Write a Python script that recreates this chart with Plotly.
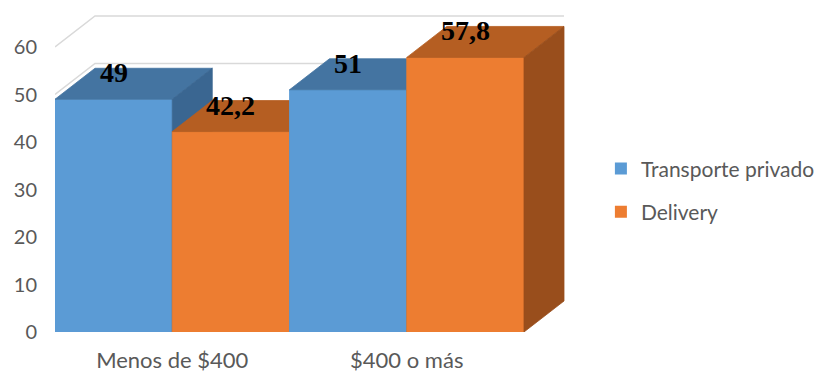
import plotly.graph_objects as go

# ---- data -------------------------------------------------------------
categories = ["Menos de $400", "$400 o más"]
transporte_privado = [49, 51]
delivery = [42.2, 57.8]
series_names = ["Transporte privado", "Delivery"]
y_ticks = [0, 10, 20, 30, 40, 50, 60]

# ---- styling / geometry -------------------------------------------------
W, H = 819, 374
M_L, M_R, M_T, M_B = 55, 249, 10, 42
PLOT_W = W - M_L - M_R
PLOT_H = H - M_T - M_B

PX_PER_Y = 4.75          # pixels per value unit
PX_PER_X = 234.5         # pixels per category slot
X_MIN = -0.5
X_MAX = X_MIN + PLOT_W / PX_PER_X
Y_MAX = PLOT_H / PX_PER_Y

# oblique depth of the 3-D boxes (pixels -> data units)
DEPTH_DX = 40 / PX_PER_X
DEPTH_DY = 31 / PX_PER_Y
BAR_W = 0.5

face_colors = {
    "Transporte privado": dict(front="#5B9BD5", top="#4474A1", side="#3A6691"),
    "Delivery": dict(front="#ED7D31", top="#B55E22", side="#994E1C"),
}
GRID_COLOR = "#D9D9D9"
TEXT_COLOR = "#595959"
FONT = "Lato"

fig = go.Figure()

# back wall and side wall gridlines
gx, gy = [], []
for v in y_ticks:
    gx += [X_MIN, X_MIN + DEPTH_DX, 1.5 + DEPTH_DX, None]
    gy += [v, v + DEPTH_DY, v + DEPTH_DY, None]
fig.add_trace(go.Scatter(x=gx, y=gy, mode="lines",
                         line=dict(color=GRID_COLOR, width=1.5),
                         hoverinfo="skip", showlegend=False))


def add_face(xs, ys, color):
    fig.add_trace(go.Scatter(x=xs + [xs[0]], y=ys + [ys[0]], mode="lines",
                             fill="toself", fillcolor=color,
                             line=dict(color=color, width=0.8),
                             hoverinfo="skip", showlegend=False))


def fmt(v):
    return str(int(v)) if float(v).is_integer() else str(v).replace(".", ",")


series = [(series_names[0], transporte_privado), (series_names[1], delivery)]

# boxes drawn left to right so nearer faces overlap farther ones
for ci, cat in enumerate(categories):
    for si, (name, values) in enumerate(series):
        v = values[ci]
        x0 = ci - 0.5 + si * BAR_W
        x1 = x0 + BAR_W
        c = face_colors[name]
        add_face([x0, x1, x1, x0], [0, 0, v, v], c["front"])
        add_face([x0, x1, x1 + DEPTH_DX, x0 + DEPTH_DX],
                 [v, v, v + DEPTH_DY, v + DEPTH_DY], c["top"])
        add_face([x1, x1 + DEPTH_DX, x1 + DEPTH_DX, x1],
                 [0, DEPTH_DY, v + DEPTH_DY, v], c["side"])
        fig.add_annotation(x=(x0 + x1) / 2, y=v, yshift=26.5, text=fmt(v),
                           showarrow=False, xanchor="center", yanchor="middle",
                           font=dict(family="Liberation Serif", size=28,
                                     color="#000000", weight="bold"))

# legend entries
for name, _ in series:
    fig.add_trace(go.Scatter(x=[None], y=[None], mode="markers", name=name,
                             legendgroup=name,
                             marker=dict(symbol="square", size=12,
                                         color=face_colors[name]["front"])))

fig.update_layout(
    width=W, height=H,
    margin=dict(l=M_L, r=M_R, t=M_T, b=M_B, autoexpand=False),
    paper_bgcolor="white", plot_bgcolor="white",
    font=dict(family=FONT, size=19, color=TEXT_COLOR),
    xaxis=dict(range=[X_MIN, X_MAX], tickvals=list(range(len(categories))),
               ticktext=categories, showgrid=False, zeroline=False,
               showline=False, ticks="", ticklabelstandoff=13,
               tickfont=dict(size=22), automargin=False),
    yaxis=dict(range=[0, Y_MAX], tickvals=y_ticks, showgrid=False,
               zeroline=False, showline=False, ticks="",
               ticklabelstandoff=17, tickfont=dict(size=20), automargin=False),
    legend=dict(x=1.06, xanchor="left", y=0.44, yanchor="middle",
                font=dict(size=21, color=TEXT_COLOR), tracegroupgap=13,
                bgcolor="rgba(0,0,0,0)"),
    showlegend=True,
)

fig.write_html("out.html")
